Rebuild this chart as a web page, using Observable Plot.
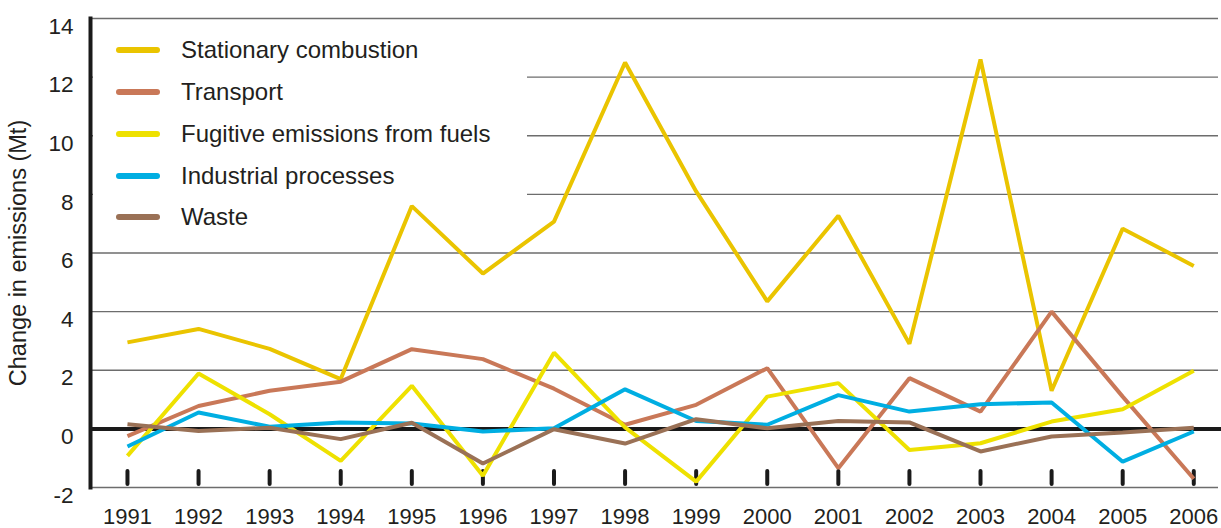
<!DOCTYPE html>
<html>
<head>
<meta charset="utf-8">
<script src="https://cdn.jsdelivr.net/npm/d3@7"></script>
<script src="https://cdn.jsdelivr.net/npm/@observablehq/plot@0.6"></script>
<style>
  html, body { margin: 0; padding: 0; background: #fff; }
  #wrap { position: relative; width: 1221px; height: 528px; font-family: "Liberation Sans", Arial, sans-serif; }
  #legendbg { position: absolute; left: 93px; top: 27px; width: 434px; height: 170px; background: #fff; }
  .item { position: absolute; left: 116px; height: 28px; display: flex; align-items: center; font-size: 24px; color: #231f20; white-space: nowrap; }
  .sw { width: 44px; height: 6px; border-radius: 3px; margin-right: 21px; }
</style>
</head>
<body>
<div id="wrap"></div>
<script>
const years = [1991,1992,1993,1994,1995,1996,1997,1998,1999,2000,2001,2002,2003,2004,2005,2006];
const seriesNames = ["Stationary combustion","Transport","Fugitive emissions from fuels","Industrial processes","Waste"];
const seriesColors = ["#EAC400","#C97858","#EEE100","#00AEE2","#9A7156"];
const stationary = [2.95,3.41,2.73,1.7,7.6,5.3,7.07,12.5,8.1,4.35,7.27,2.9,12.6,1.3,6.83,5.56];
const transport  = [-0.25,0.78,1.3,1.61,2.72,2.38,1.37,0.14,0.82,2.07,-1.34,1.73,0.59,4.0,1.1,-1.7];
const fugitive   = [-0.92,1.89,0.5,-1.09,1.47,-1.6,2.6,0.05,-1.8,1.1,1.56,-0.72,-0.49,0.25,0.67,1.98];
const industrial = [-0.6,0.56,0.07,0.22,0.18,-0.09,0.02,1.35,0.27,0.14,1.15,0.59,0.84,0.9,-1.12,-0.09];
const waste      = [0.16,-0.07,0.04,-0.35,0.21,-1.18,-0.01,-0.5,0.33,0.02,0.27,0.22,-0.77,-0.26,-0.12,0.04];
const yTicks = [-2,0,2,4,6,8,10,12,14];
const gridTicks = [-2,2,4,6,8,10,12,14];

const allSeries = [stationary, transport, fugitive, industrial, waste];
const rows = [];
allSeries.forEach((vals, i) => vals.forEach((v, j) => rows.push({series: seriesNames[i], year: years[j], value: v})));

const chart = Plot.plot({
  width: 1221,
  height: 528,
  marginLeft: 90,
  marginRight: 0,
  marginTop: 18,
  marginBottom: 41,
  style: {fontFamily: '"Liberation Sans", Arial, sans-serif', fontSize: "22.5px", color: "#231f20", background: "#fff"},
  x: {type: "linear", domain: [1990.48, 2006.39]},
  y: {domain: [-2, 14]},
  color: {domain: seriesNames, range: seriesColors},
  marks: [
    Plot.ruleY(gridTicks, {stroke: "#6d6d6d", strokeWidth: 1.3, insetRight: 3}),
    Plot.ruleY([0], {stroke: "#1a1a1a", strokeWidth: 4}),
    Plot.frame({anchor: "left", stroke: "#1a1a1a", strokeWidth: 4}),
    Plot.axisX({ticks: years, tickSize: -13, dy: -3, stroke: "#1a1a1a", strokeWidth: 4, strokeLinecap: "round", text: null, label: null}),
    Plot.axisX({ticks: years, tickSize: 0, tickPadding: 21, fontSize: 22, tickFormat: d => String(d), label: null, fill: "#231f20"}),
    Plot.axisY({ticks: yTicks, tickSize: 0, tickPadding: 17, dy: 8, tickFormat: d => String(d), fill: "#231f20", label: null}),
    Plot.axisY({ticks: [], tickSize: 0, fontSize: 23.5, fill: "#231f20",
      label: "Change in emissions (Mt)", labelAnchor: "center", labelArrow: "none", labelOffset: 81}),
    Plot.line(rows, {x: "year", y: "value", z: "series", stroke: "series", strokeWidth: 4, strokeLinejoin: "miter", strokeLinecap: "butt"})
  ]
});

const wrap = document.getElementById("wrap");
wrap.appendChild(chart);
const bg = document.createElement("div");
bg.id = "legendbg";
wrap.appendChild(bg);
const centers = [50, 92, 134, 176, 217];
seriesNames.forEach((name, i) => {
  const it = document.createElement("div");
  it.className = "item";
  it.style.top = (centers[i] - 14) + "px";
  const sw = document.createElement("span");
  sw.className = "sw";
  sw.style.background = seriesColors[i];
  it.appendChild(sw);
  it.appendChild(document.createTextNode(name));
  wrap.appendChild(it);
});
</script>
</body>
</html>
